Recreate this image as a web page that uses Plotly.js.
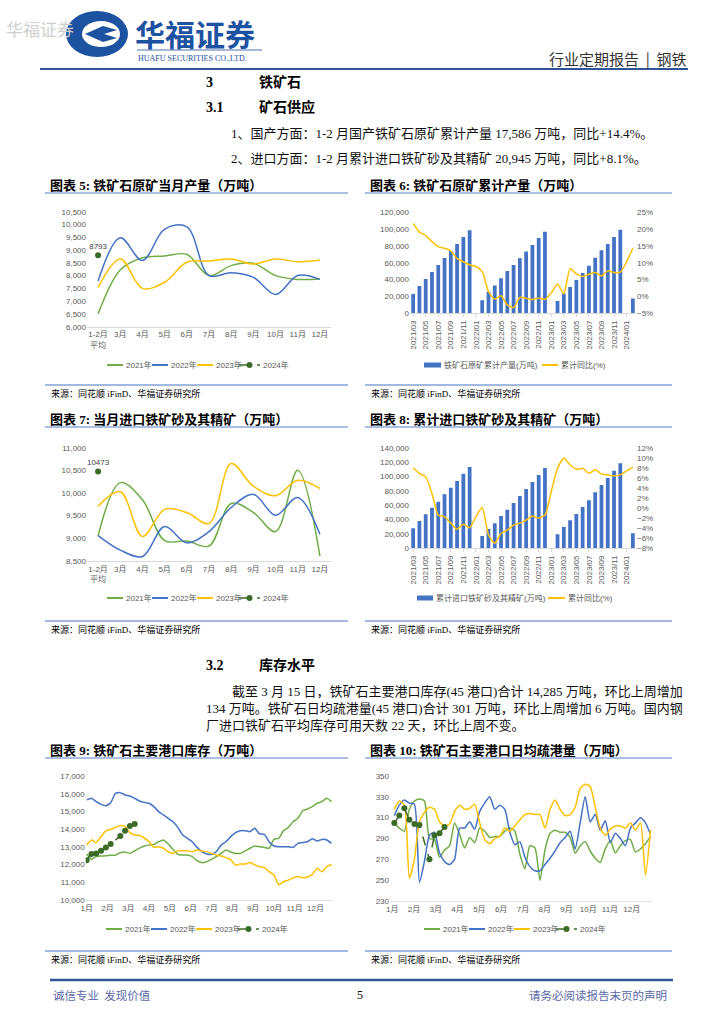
<!DOCTYPE html>
<html><head><meta charset="utf-8">
<script src="https://cdn.plot.ly/plotly-3.0.1.min.js"></script>
<style>html,body{margin:0;padding:0;background:#fff}#chart{width:724px;height:1024px}</style>
</head><body><div id="chart"></div><script>
// ---------------- DATA ----------------
const monthCats = ['1-2月<br>平均','3月','4月','5月','6月','7月','8月','9月','10月','11月','12月'];
const prod2021 = [6500,8220,8700,8770,8830,8000,8390,8480,8000,7850,7870];
const prod2022 = [7790,9480,8590,9820,9910,8000,8110,7930,7260,8000,7850];
const prod2023 = [7530,8650,7500,7740,8520,8570,8650,8450,8650,8540,8610];
const prod2024 = [8793];

const cumMonths = ['2021/03','2021/04','2021/05','2021/06','2021/07','2021/08','2021/09','2021/10','2021/11','2021/12',
  '2022/01','2022/02','2022/03','2022/04','2022/05','2022/06','2022/07','2022/08','2022/09','2022/10','2022/11','2022/12',
  '2023/01','2023/02','2023/03','2023/04','2023/05','2023/06','2023/07','2023/08','2023/09','2023/10','2023/11','2023/12',
  '2024/01','2024/02'];
const cumTicks = ['2021/03','2021/05','2021/07','2021/09','2021/11','2022/01','2022/03','2022/05','2022/07','2022/09','2022/11',
  '2023/01','2023/03','2023/05','2023/07','2023/09','2023/11','2024/01'];
const cumProd = [23000,32500,40800,49100,57400,65700,74000,82400,90700,98600,
  null,15400,25700,32900,41600,50300,57400,65300,73300,81200,89500,97000,
  null,14700,23400,31300,39600,47900,56600,66100,74800,82400,90700,99400,
  null,17586];
const cumProdYoy = [21.7,19.1,18.1,16.3,14.8,14.3,13.5,11.3,10.3,9.4,
  8.9,7.4,1.4,-0.8,0.2,-2.5,-3.3,-0.3,-0.5,-0.9,-0.5,-0.9,
  1.0,3.7,0.8,8.2,6.7,5.9,6.6,7.1,6.1,7.6,7.1,7.2,
  10.3,14.4];

const imp2021 = [9050,10230,9850,8950,8940,8830,9770,9570,9150,10500,8610];
const imp2022 = [9060,8740,8600,9260,8900,9150,9680,9970,9510,9900,9090];
const imp2023 = [9710,10030,9040,9640,9570,9330,10650,10150,9940,10280,10100];
const imp2024 = [10473];

const cumImp = [27800,38000,47300,56600,64900,75100,84400,93600,103800,113100,
  null,17200,26900,34800,45000,53800,63000,72800,82500,92300,102000,111700,
  null,19500,29700,38900,47700,57500,66800,77900,88100,97800,108000,118200,
  null,20945];
const cumImpYoy = [8.0,6.9,6.2,2.9,-1.4,-1.7,-3.0,-4.2,-3.2,-3.9,
  -1.7,0.1,-5.3,-7.0,-5.0,-4.4,-3.4,-3.0,-2.4,-1.6,-2.0,-1.4,
  3.3,7.9,9.9,8.6,7.7,7.9,6.9,7.6,6.8,6.6,6.4,6.6,
  7.4,8.1];

const weeks = [1,2,3,4,5,6,7,8,9,10,11,12,13,14,15,16,17,18,19,20,21,22,23,24,25,26,
  27,28,29,30,31,32,33,34,35,36,37,38,39,40,41,42,43,44,45,46,47,48,49,50,51,52];
const weeks2024 = [1,2,3,4,5,6,8,9,10,11];
const monthLabels = ['1月','2月','3月','4月','5月','6月','7月','8月','9月','10月','11月','12月'];

const port2021 = [12600,12300,12450,12480,12500,12520,12540,12670,12710,12630,12780,12930,13050,13100,13140,13290,13390,13160,12850,12580,
  12540,12540,12450,12220,12110,12160,12290,12450,12630,12820,12710,12630,12630,12770,12920,13050,13010,12970,12920,13420,
  13480,13910,14100,14420,14610,15040,15140,15270,15460,15550,15740,15550];
const port2022 = [15650,15740,15550,15400,15320,15490,16020,16060,15930,15870,15740,15590,15510,15460,15270,14990,14800,14610,14420,14100,
  13670,13480,13290,12970,12730,12600,12580,12730,13100,13290,13580,13800,13910,13910,13860,14050,13730,13710,13290,13050,
  13010,13010,13010,12970,13200,13240,13290,13460,13330,13420,13390,13200];
const port2023 = [13100,13390,13240,13580,13900,13990,14100,14200,14140,13800,13670,13650,13500,13300,12970,13010,12920,12730,12630,12780,
  12780,12780,12730,12820,12770,12730,12630,12540,12480,12390,12260,11980,12030,12030,12110,11980,11880,11840,11600,11410,
  10870,11030,11120,11250,11320,11260,11300,11450,11790,11600,11880,12000];
const port2024 = [12250,12600,12630,12780,12970,13160,13610,13910,14180,14285];

const ship2021 = [305,300,297,318,326,328,326,290,289,272,279,283,305,294,281,291,286,300,297,291,292,292,297,300,297,275,
  261,283,281,250,279,295,298,296,296,291,276,283,287,278,271,267,280,288,276,283,288,289,277,280,285,292];
const ship2022 = [312,322,327,324,323,248,268,293,296,276,268,265,270,300,300,306,299,316,324,330,318,322,318,296,284,287,
  272,263,259,259,265,271,278,286,291,297,280,305,330,306,313,298,307,286,295,290,283,300,305,310,305,294];
const ship2023 = [318,326,322,252,270,306,315,320,318,306,302,304,316,322,318,319,323,305,289,285,290,292,300,297,302,308,
  313,314,313,313,300,318,327,318,312,313,320,338,342,340,320,300,293,299,302,302,300,305,298,305,255,298];
const ship2024 = [305,312,319,308,304,303,270,293,295,301];

// ---------------- STYLE / HELPERS ----------------
const W=724,H=1024;
const X=v=>v/W, Y=v=>1-v/H;
const GREEN='#70ad47', BLUE='#4472c4', YELLOW='#ffc000', DKG='#3b6b26';
const SERIF='Liberation Serif, Noto Sans CJK SC';
const SANS='Liberation Sans, Noto Sans CJK SC';
const CJK='Noto Sans CJK SC';
const tickFont={family:SANS,size:8,color:'#595959'};
const shapes=[], annotations=[];
function line(x0,y0,x1,y1,color,width,dash){shapes.push({type:'line',xref:'paper',yref:'paper',x0:X(x0),y0:Y(y0),x1:X(x1),y1:Y(y1),line:{color:color,width:width||1,dash:dash||'solid'}});}
function rect(x0,y0,x1,y1,fill){shapes.push({type:'rect',xref:'paper',yref:'paper',x0:X(x0),y0:Y(y1),x1:X(x1),y1:Y(y0),fillcolor:fill,line:{width:0}});}
function ell(cx,cy,rx,ry,fill){shapes.push({type:'circle',xref:'paper',yref:'paper',x0:X(cx-rx),x1:X(cx+rx),y0:Y(cy+ry),y1:Y(cy-ry),fillcolor:fill,line:{width:0}});}
function poly(pts,fill){const d=pts.map((p,i)=>(i?'L':'M')+X(p[0])+','+Y(p[1])).join(' ')+' Z';shapes.push({type:'path',xref:'paper',yref:'paper',path:d,fillcolor:fill,line:{width:0}});}
function txt(x,y,s,size,color,family,anchor){annotations.push({xref:'paper',yref:'paper',x:X(x),y:Y(y),text:s,showarrow:false,xanchor:anchor||'left',yanchor:'middle',font:{size:size,color:color,family:family},borderpad:0});}

// ---------------- PAGE DECORATION ----------------
txt(5,28,'华福证券',17,'#cfcfcf',CJK);
ell(97,34,31,23,'#1d52a0');
ell(101,34,19,13,'#ffffff');
poly([[85,34],[103,26],[117,30],[104,34],[117,38],[103,42]],'#1d52a0');
txt(134,33,'<b>华福证券</b>',30,'#1d52a0',CJK);
line(137,50,262,50,'#1d52a0',0.8);
txt(137,58,'HUAFU SECURITIES CO.,LTD.',8,'#1d52a0','Liberation Serif');
txt(688,58,'行业定期报告  |  钢铁',15,'#333333',CJK,'right');
line(40,69,688,69,'#2f5597',2);

txt(205,82,'<b>3</b>',14,'#000',SERIF); txt(258,82,'<b>铁矿石</b>',14,'#000',SERIF);
txt(205,107,'<b>3.1</b>',14,'#000',SERIF); txt(258,107,'<b>矿石供应</b>',14,'#000',SERIF);
txt(230,133,'1、国产方面：1-2 月国产铁矿石原矿累计产量 17,586 万吨，同比+14.4%。',13,'#111',SERIF);
txt(230,158,'2、进口方面：1-2 月累计进口铁矿砂及其精矿 20,945 万吨，同比+8.1%。',13,'#111',SERIF);

function panelFrame(xl,xr,titleY,title,srcY){
  txt(xl+4,titleY,'<b>'+title+'</b>',13,'#000',SERIF);
  line(xl,titleY+8,xr,titleY+8,'#8faadc',1.5);
  line(xl,srcY,xr,srcY,BLUE,1);
  txt(xl+5,srcY+8,'来源：同花顺 iFinD、华福证券研究所',9,'#000',SERIF);
}
panelFrame(45,348,185,'图表 5: 铁矿石原矿当月产量（万吨）',385);
panelFrame(365,672,185,'图表 6: 铁矿石原矿累计产量（万吨）',385);
panelFrame(45,348,419,'图表 7: 当月进口铁矿砂及其精矿（万吨）',621);
panelFrame(365,672,419,'图表 8: 累计进口铁矿砂及其精矿（万吨）',621);
panelFrame(45,348,750,'图表 9: 铁矿石主要港口库存（万吨）',951);
panelFrame(365,672,750,'图表 10: 铁矿石主要港口日均疏港量（万吨）',951);

txt(205,665,'<b>3.2</b>',14,'#000',SERIF); txt(258,665,'<b>库存水平</b>',14,'#000',SERIF);
txt(231,691,'截至 3 月 15 日，铁矿石主要港口库存(45 港口)合计 14,285 万吨，环比上周增加',13,'#111',SERIF);
txt(205,708,'134 万吨。铁矿石日均疏港量(45 港口)合计 301 万吨，环比上周增加 6 万吨。国内钢',13,'#111',SERIF);
txt(205,725,'厂进口铁矿石平均库存可用天数 22 天，环比上周不变。',13,'#111',SERIF);

line(50,980,673,980,'#2f5597',2.5);
txt(52,995,'诚信专业  发现价值',11.5,'#5b67a8',CJK);
txt(360,995,'5',12,'#000','Liberation Serif','center');
txt(668,995,'请务必阅读报告末页的声明',11.5,'#5b67a8',CJK,'right');

// legends
function legLine(x0,x1,y,c){line(x0,y,x1,y,c,2);}
function leg2024(x0,x1,y){line(x0,y,x1,y,DKG,1.5,'dash');ell((x0+x1)/2,y,3,3,DKG);}
function yearLegend(x,y){
  legLine(x,x+16,y,GREEN); txt(x+18,y,'2021年',8,'#595959',SANS);
  legLine(x+45,x+61,y,BLUE); txt(x+63,y,'2022年',8,'#595959',SANS);
  legLine(x+90,x+106,y,YELLOW); txt(x+108,y,'2023年',8,'#595959',SANS);
  leg2024(x+132,x+153,y); txt(x+155,y,'2024年',8,'#595959',SANS);
}
yearLegend(107,365); yearLegend(107,598); yearLegend(106,929); yearLegend(424,929);
rect(424,362.5,441,367.5,BLUE); txt(443,365,'铁矿石原矿累计产量(万吨)',8,'#595959',SANS);
legLine(542,558,365,YELLOW); txt(560,365,'累计同比(%)',8,'#595959',SANS);
rect(417,595.5,433,600.5,BLUE); txt(435,598,'累计进口铁矿砂及其精矿(万吨)',8,'#595959',SANS);
legLine(548,565,598,YELLOW); txt(567,598,'累计同比(%)',8,'#595959',SANS);

// ---------------- TRACES ----------------
function ln(x,y,c,xa,ya,sm){return {type:'scatter',mode:'lines',x:x,y:y,xaxis:xa,yaxis:ya,line:{color:c,width:1.5,shape:'spline',smoothing:sm||1},hoverinfo:'skip'};}
function pt2024(x,y,xa,ya){return {type:'scatter',mode:'markers+text',x:x,y:y,xaxis:xa,yaxis:ya,marker:{color:DKG,size:6},text:y.map(String),textposition:'top center',textfont:{family:SANS,size:8,color:'#404040'},hoverinfo:'skip'};}
function dash2024(x,y,xa,ya){return {type:'scatter',mode:'lines+markers',x:x,y:y,xaxis:xa,yaxis:ya,line:{color:DKG,width:1.5,dash:'dash'},marker:{color:DKG,size:6},hoverinfo:'skip'};}
const mc = monthCats;
const traces = [
  ln(mc,prod2021,GREEN,'x','y'), ln(mc,prod2022,BLUE,'x','y'), ln(mc,prod2023,YELLOW,'x','y'), pt2024([mc[0]],prod2024,'x','y'),
  {type:'bar',x:cumMonths,y:cumProd,xaxis:'x2',yaxis:'y2',marker:{color:BLUE},hoverinfo:'skip'},
  {type:'scatter',mode:'lines',x:cumMonths,y:cumProdYoy,xaxis:'x2',yaxis:'y3',line:{color:YELLOW,width:1.5,shape:'spline',smoothing:0.6},hoverinfo:'skip'},
  ln(mc,imp2021,GREEN,'x3','y4'), ln(mc,imp2022,BLUE,'x3','y4'), ln(mc,imp2023,YELLOW,'x3','y4'), pt2024([mc[0]],imp2024,'x3','y4'),
  {type:'bar',x:cumMonths,y:cumImp,xaxis:'x4',yaxis:'y5',marker:{color:BLUE},hoverinfo:'skip'},
  {type:'scatter',mode:'lines',x:cumMonths,y:cumImpYoy,xaxis:'x4',yaxis:'y6',line:{color:YELLOW,width:1.5,shape:'spline',smoothing:0.6},hoverinfo:'skip'},
  ln(weeks,port2021,GREEN,'x5','y7',0.5), ln(weeks,port2022,BLUE,'x5','y7',0.5), ln(weeks,port2023,YELLOW,'x5','y7',0.5), dash2024(weeks2024,port2024,'x5','y7'),
  ln(weeks,ship2021,GREEN,'x6','y8',0.6), ln(weeks,ship2022,BLUE,'x6','y8',0.6), ln(weeks,ship2023,YELLOW,'x6','y8',0.6), dash2024(weeks2024,ship2024,'x6','y8')
];

// ---------------- AXES ----------------
const base = {showgrid:false,zeroline:false,tickfont:tickFont,fixedrange:true,ticks:''};
function catX(dom,anchor){return Object.assign({},base,{domain:dom,anchor:anchor,type:'category',categoryorder:'array',categoryarray:monthCats,range:[-0.5,10.5],showline:true,linecolor:'#d9d9d9',linewidth:1});}
function cumX(dom,anchor){return Object.assign({},base,{domain:dom,anchor:anchor,type:'category',categoryorder:'array',categoryarray:cumMonths,range:[-0.5,35.5],tickmode:'array',tickvals:cumTicks,ticktext:cumTicks,tickangle:-90,showline:true,linecolor:'#d9d9d9',linewidth:1,ticks:'outside',ticklen:3,tickcolor:'#d9d9d9'});}
function wkX(dom,anchor,range,first){const tv=monthLabels.map((m,i)=>first+i*52/12);return Object.assign({},base,{domain:dom,anchor:anchor,range:range,tickmode:'array',tickvals:tv,ticktext:monthLabels,showline:true,linecolor:'#e3e3e3',linewidth:1});}
function valY(dom,anchor,range,dtick,extra){return Object.assign({},base,{domain:dom,anchor:anchor,range:range,tick0:range[0],dtick:dtick,tickformat:',d',showline:false},extra||{});}

const layout = {
  width:W,height:H,margin:{l:0,r:0,t:0,b:0},paper_bgcolor:'#fff',plot_bgcolor:'rgba(0,0,0,0)',
  showlegend:false,bargap:0.4,hovermode:false,separators:'.,',
  xaxis: catX([X(87),X(331)],'y'),
  yaxis: valY([Y(326.7),Y(211.7)],'x',[6000,10500],500),
  xaxis2: cumX([X(410),X(636)],'y2'),
  yaxis2: valY([Y(313.3),Y(212.3)],'x2',[0,120000],20000),
  yaxis3: valY([Y(313.3),Y(212.3)],'x2',[-5,25],5,{overlaying:'y2',side:'right',tickformat:'d',ticksuffix:'%'}),
  xaxis3: catX([X(87),X(331)],'y4'),
  yaxis4: valY([Y(561),Y(447.7)],'x3',[8500,11000],500),
  xaxis4: cumX([X(410),X(636)],'y5'),
  yaxis5: valY([Y(548.3),Y(447.7)],'x4',[0,140000],20000),
  yaxis6: valY([Y(548.3),Y(447.7)],'x4',[-8,12],2,{overlaying:'y5',side:'right',tickformat:'d',ticksuffix:'%'}),
  xaxis5: wkX([X(85.7),X(332)],'y7',[0.8,52.1],1),
  yaxis7: valY([Y(900),Y(776)],'x5',[10000,17000],1000),
  xaxis6: wkX([X(390),X(652)],'y8',[0.144,52.3],0.6),
  yaxis8: valY([Y(901),Y(776)],'x6',[230,350],20),
  shapes:shapes, annotations:annotations
};
Plotly.newPlot('chart',traces,layout,{staticPlot:true,displayModeBar:false});
</script></body></html>
